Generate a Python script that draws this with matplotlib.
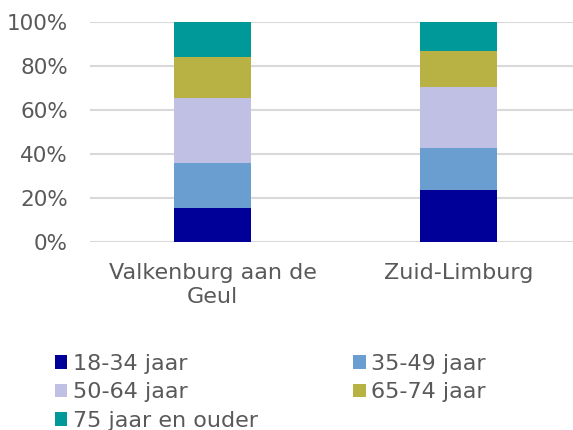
import matplotlib
matplotlib.use("Agg")
import matplotlib.pyplot as plt
from matplotlib.patches import Patch
import numpy as np

categories = ["Valkenburg aan de\nGeul", "Zuid-Limburg"]
series_names = ["18-34 jaar", "35-49 jaar", "50-64 jaar", "65-74 jaar", "75 jaar en ouder"]
v_18_34 = [15.4, 23.7]
v_35_49 = [20.4, 19.2]
v_50_64 = [29.8, 27.5]
v_65_74 = [18.4, 16.3]
v_75plus = [16.0, 13.3]
colors = ["#000099", "#6a9dd0", "#c0c0e4", "#b8b245", "#009999"]
yticks = [0, 20, 40, 60, 80, 100]
ytick_labels = ["0%", "20%", "40%", "60%", "80%", "100%"]

plt.rcParams['font.family'] = ['DejaVu Sans']
txt = "#595959"

fig = plt.figure(figsize=(5.73, 4.30), dpi=100)
ax = fig.add_axes([90/573, 1-242/430, 1-90/573, 220/430])

x = np.arange(len(categories))
series = [v_18_34, v_35_49, v_50_64, v_65_74, v_75plus]
bottom = np.zeros(len(categories))
handles = []
for name, vals, c in zip(series_names, series, colors):
    ax.bar(x, vals, bottom=bottom, width=0.313, color=c, zorder=3)
    bottom += np.array(vals)
    handles.append(Patch(facecolor=c, label=name))

ax.set_xlim(-0.5, (573-212.5)/246)
ax.set_ylim(0, 100)
ax.set_yticks(yticks)
ax.set_yticklabels(ytick_labels, fontsize=15.5, color=txt)
ax.set_xticks(x)
ax.set_xticklabels(categories, fontsize=16, color=txt, linespacing=1.25)
ax.tick_params(axis='both', length=0)
ax.tick_params(axis='y', pad=16)
ax.tick_params(axis='x', pad=15)
for s in ax.spines.values():
    s.set_visible(False)
ax.grid(axis='y', color="#d9d9d9", linewidth=1.5, zorder=0)
ax.set_axisbelow(True)

order = [0, 2, 4, 1, 3]
leg = fig.legend([handles[i] for i in order], [series_names[i] for i in order],
                 ncol=2, loc='upper left', bbox_to_anchor=(55/573, 1-354/430),
                 frameon=False, fontsize=16, handlelength=0.55, handleheight=0.55,
                 handletextpad=0.25, labelspacing=0.38, columnspacing=4.3,
                 borderaxespad=0, borderpad=0)
for t in leg.get_texts():
    t.set_color(txt)

fig.savefig("out.png", dpi=100)
